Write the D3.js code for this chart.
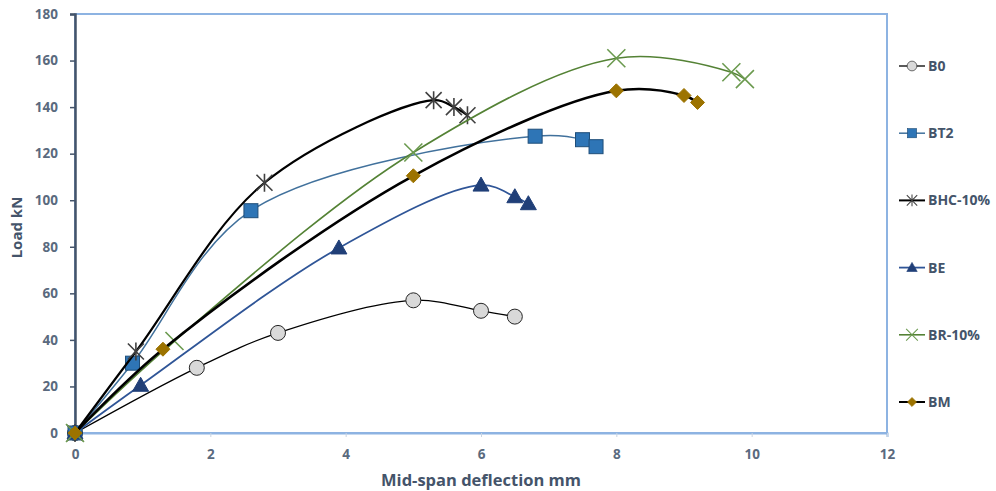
<!DOCTYPE html>
<html>
<head>
<meta charset="utf-8">
<script src="https://cdn.jsdelivr.net/npm/d3@7"></script>
<style>
  body { margin: 0; background: #fff; }
  text { font-family: "Open Sans", "DejaVu Sans", sans-serif; }
</style>
</head>
<body>
<div id="chart"></div>
<script>
// chart size and plot box
const width = 996;
const height = 491;
const margin = {left: 75, right: 110, top: 14, bottom: 58};

// data (deflection mm, load kN)
const seriesNames = ["B0", "BT2", "BHC-10%", "BE", "BR-10%", "BM"];
const b0X = [0, 1.8, 3, 5, 6, 6.5];
const b0Y = [0, 28, 43, 57, 52.5, 50];
const bt2X = [0, 0.85, 2.6, 6.8, 7.5, 7.7];
const bt2Y = [0, 30, 95.5, 127.5, 126, 123];
const bhcX = [0, 0.9, 2.8, 5.3, 5.6, 5.8];
const bhcY = [0, 35, 107.5, 143, 140, 136.5];
const beX = [0, 0.97, 3.9, 6, 6.5, 6.7];
const beY = [0, 20.5, 79.5, 106.5, 101.5, 98.5];
const brX = [0, 1.47, 5, 8, 9.7, 9.9];
const brY = [0, 39.5, 120.5, 161, 155, 152];
const bmX = [0, 1.3, 5, 8, 9, 9.2];
const bmY = [0, 36, 110.5, 147, 145, 142];

const xTicks = [0, 2, 4, 6, 8, 10, 12];
const yTicks = [0, 20, 40, 60, 80, 100, 120, 140, 160, 180];

const series = [
  {name: seriesNames[0], xs: b0X, ys: b0Y, line: "#000000", lw: 1.3, marker: "circle", fill: "#d9d9d9", stroke: "#262626"},
  {name: seriesNames[1], xs: bt2X, ys: bt2Y, line: "#41719c", lw: 1.5, marker: "square", fill: "#2e75b6", stroke: "#1f4e79"},
  {name: seriesNames[2], xs: bhcX, ys: bhcY, line: "#000000", lw: 2.2, marker: "star", fill: "none", stroke: "#404040"},
  {name: seriesNames[3], xs: beX, ys: beY, line: "#2f5597", lw: 1.8, marker: "triangle", fill: "#203f78", stroke: "#203f78"},
  {name: seriesNames[4], xs: brX, ys: brY, line: "#548235", lw: 1.6, marker: "x", fill: "none", stroke: "#6b9a4f"},
  {name: seriesNames[5], xs: bmX, ys: bmY, line: "#000000", lw: 2.6, marker: "diamond", fill: "#9c7300", stroke: "#9c7300"}
];

const svg = d3.select("#chart")
  .append("svg")
  .attr("width", width)
  .attr("height", height);

const xScale = d3.scaleLinear()
  .domain([0, 12])
  .range([margin.left, width - margin.right + 1]);

const yScale = d3.scaleLinear()
  .domain([0, 180])
  .range([height - margin.bottom, margin.top]);

const tickColor = "#5a6a7e";
const titleColor = "#44546a";
const borderColor = "#8db3e2";

// plot area border (top and right, light blue)
svg.append("rect")
  .attr("x", xScale(0))
  .attr("y", yScale(180))
  .attr("width", xScale(12) - xScale(0))
  .attr("height", yScale(0) - yScale(180))
  .attr("fill", "none")
  .attr("stroke", borderColor)
  .attr("stroke-width", 2);

// x axis
const xAxis = svg.append("g")
  .attr("transform", `translate(0,${yScale(0)})`)
  .call(d3.axisBottom(xScale).tickValues(xTicks).tickSize(4).tickPadding(12));
xAxis.select(".domain").attr("stroke", borderColor).attr("stroke-width", 2);
xAxis.selectAll(".tick line").attr("stroke", "#c8d4e2");
xAxis.selectAll("text")
  .attr("fill", tickColor)
  .attr("font-size", "13.5px")
  .attr("font-weight", "bold");

// y axis
const yAxis = svg.append("g")
  .attr("transform", `translate(${xScale(0)},0)`)
  .call(d3.axisLeft(yScale).tickValues(yTicks).tickSize(5).tickPadding(12));
yAxis.select(".domain").attr("stroke", "#44546a").attr("stroke-width", 2.5);
yAxis.selectAll(".tick line").attr("stroke", "#44546a").attr("stroke-width", 1.5);
yAxis.selectAll("text")
  .attr("fill", tickColor)
  .attr("font-size", "13.5px")
  .attr("font-weight", "bold");

// axis titles
svg.append("text")
  .attr("x", (xScale(0) + xScale(12)) / 2)
  .attr("y", 486)
  .attr("text-anchor", "middle")
  .attr("fill", titleColor)
  .attr("font-size", "16.5px")
  .attr("font-weight", "bold")
  .text("Mid-span deflection mm");

svg.append("text")
  .attr("transform", `translate(22,${(yScale(0) + yScale(180)) / 2 + 4}) rotate(-90)`)
  .attr("text-anchor", "middle")
  .attr("fill", titleColor)
  .attr("font-size", "15px")
  .attr("font-weight", "bold")
  .text("Load kN");

// marker drawing helper
function drawMarker(g, type, s) {
  if (type === "circle") {
    g.append("circle").attr("r", 7.5)
      .attr("fill", s.fill).attr("stroke", s.stroke).attr("stroke-width", 1);
  } else if (type === "square") {
    g.append("rect").attr("x", -7).attr("y", -7).attr("width", 14).attr("height", 14)
      .attr("fill", s.fill).attr("stroke", s.stroke).attr("stroke-width", 1);
  } else if (type === "triangle") {
    g.append("path").attr("d", "M0,-8L8,6L-8,6Z")
      .attr("fill", s.fill).attr("stroke", s.stroke).attr("stroke-width", 1);
  } else if (type === "diamond") {
    g.append("path").attr("d", "M0,-7L7,0L0,7L-7,0Z")
      .attr("fill", s.fill).attr("stroke", s.stroke).attr("stroke-width", 1);
  } else if (type === "star") {
    g.append("path").attr("d", "M-8,-8L8,8M-8,8L8,-8M0,-9L0,9")
      .attr("fill", "none").attr("stroke", s.stroke).attr("stroke-width", 1.6);
  } else if (type === "x") {
    g.append("path").attr("d", "M-9,-9L9,9M-9,9L9,-9")
      .attr("fill", "none").attr("stroke", s.stroke).attr("stroke-width", 1.6);
  }
}

const line = d3.line()
  .x(d => xScale(d[0]))
  .y(d => yScale(d[1]))
  .curve(d3.curveCatmullRom.alpha(0.5));

// series lines and markers
series.forEach(function(s) {
  const pts = s.xs.map((x, i) => [x, s.ys[i]]);
  const g = svg.append("g").attr("class", "series");
  g.append("path")
    .datum(pts)
    .attr("d", line)
    .attr("fill", "none")
    .attr("stroke", s.line)
    .attr("stroke-width", s.lw);
  g.selectAll(".mk")
    .data(pts)
    .enter()
    .append("g")
      .attr("class", "mk")
      .attr("transform", d => `translate(${xScale(d[0])},${yScale(d[1])})`)
      .each(function() { drawMarker(d3.select(this), s.marker, s); });
});

// legend
const legend = svg.append("g");
series.forEach(function(s, i) {
  const ly = 66 + i * 67.2;
  const lg = legend.append("g").attr("transform", `translate(899,${ly})`);
  lg.append("line")
    .attr("x1", 0).attr("x2", 26).attr("y1", 0).attr("y2", 0)
    .attr("stroke", s.line).attr("stroke-width", Math.min(s.lw, 2));
  const mg = lg.append("g").attr("transform", "translate(13,0) scale(0.65)");
  drawMarker(mg, s.marker, s);
  lg.append("text")
    .attr("x", 29)
    .attr("y", 0)
    .attr("dy", "0.35em")
    .attr("fill", titleColor)
    .attr("font-size", "14px")
    .attr("font-weight", "bold")
    .text(s.name);
});
</script>
</body>
</html>
